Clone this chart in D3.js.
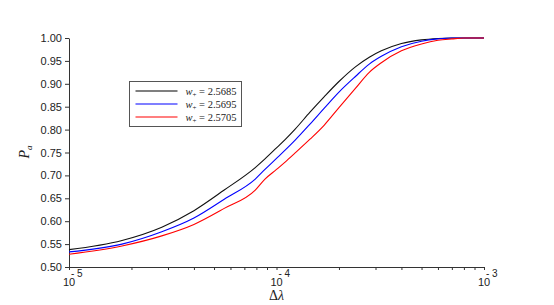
<!DOCTYPE html>
<html>
<head>
<meta charset="utf-8">
<script src="https://cdn.jsdelivr.net/npm/d3@7"></script>
<style>
  body { margin: 0; background: #fff; }
  svg { display: block; }
  .tick text { font-family: "Liberation Sans", Arial, sans-serif; font-size: 11px; fill: #222; }
</style>
</head>
<body>
<svg id="chart"></svg>
<script>
// sampled step sizes (shared by all series)
const dLambda = [1e-5, 1.8e-5, 2.8e-5, 4e-5, 5.6e-5, 7.9e-5, 8.8e-5, 1e-4, 1.1e-4, 1.23e-4,
  1.45e-4, 1.7e-4, 2e-4, 2.4e-4, 2.8e-4, 3.2e-4, 4e-4, 5e-4, 6e-4, 7e-4, 8e-4, 1e-3];

const pa25685 = [0.538, 0.558, 0.587, 0.623, 0.668, 0.717, 0.736, 0.760, 0.778, 0.801,
  0.838, 0.872, 0.905, 0.937, 0.958, 0.972, 0.988, 0.996, 0.999, 1.0, 1.0, 1.0];
const pa25695 = [0.533, 0.550, 0.577, 0.607, 0.648, 0.692, 0.713, 0.737, 0.755, 0.777,
  0.812, 0.847, 0.882, 0.916, 0.943, 0.960, 0.981, 0.993, 0.998, 1.0, 1.0, 1.0];
const pa25705 = [0.528, 0.546, 0.568, 0.593, 0.628, 0.668, 0.692, 0.713, 0.729, 0.749,
  0.779, 0.810, 0.848, 0.890, 0.925, 0.946, 0.972, 0.987, 0.995, 0.998, 1.0, 1.0];

const seriesNames = ["2.5685", "2.5695", "2.5705"];
const seriesColors = ["#111111", "#0000ff", "#ff0000"];
const legendColors = ["#000000", "#7f7fff", "#ff0000"];
const yTicks = [0.50, 0.55, 0.60, 0.65, 0.70, 0.75, 0.80, 0.85, 0.90, 0.95, 1.00];
const xDecades = [-5, -4, -3];

const dims = { width: 554, height: 305, margin: { top: 38, bottom: 38, left: 69, right: 70 } };

const svg = d3.select("#chart").attr("width", dims.width).attr("height", dims.height);

const x = d3.scaleLog()
  .domain([1e-5, 1e-3])
  .range([dims.margin.left, dims.width - dims.margin.right]);
const y = d3.scaleLinear()
  .domain([0.5, 1])
  .range([dims.height - dims.margin.bottom, dims.margin.top]);

// y axis
svg.append("g")
  .attr("transform", `translate(${dims.margin.left},0)`)
  .call(d3.axisLeft(y).tickValues(yTicks).tickSize(4).tickSizeOuter(0).tickFormat(d3.format(".2f")))
  .call(g => g.selectAll("line, path").attr("stroke", "#333"));

// x axis: minor + major ticks, labels drawn by hand as 10^n
const xTickVals = [];
xDecades.forEach(e => {
  if (e < -3) for (let m = 1; m < 10; m++) xTickVals.push(m * Math.pow(10, e));
  else xTickVals.push(Math.pow(10, e));
});
svg.append("g")
  .attr("transform", `translate(0,${y(0.5)})`)
  .call(d3.axisBottom(x).tickValues(xTickVals).tickSize(3).tickSizeOuter(0).tickFormat(""))
  .call(g => g.selectAll("line, path").attr("stroke", "#333"));

const xLab = svg.append("g")
  .style("font-family", "'Liberation Sans', Arial, sans-serif")
  .attr("fill", "#222");
xDecades.forEach(e => {
  const px = x(Math.pow(10, e));
  xLab.append("text").attr("x", px).attr("y", 286).attr("text-anchor", "middle")
    .style("font-size", "11px").text("10");
  xLab.append("text").attr("x", px + 2).attr("y", 277)
    .style("font-size", "10px").text("- " + Math.abs(e));
});

// axis titles
svg.append("text")
  .attr("x", x(1e-4)).attr("y", 300)
  .attr("text-anchor", "middle")
  .style("font-family", "'Liberation Serif', serif").style("font-size", "14px").attr("fill", "#222")
  .html('Δ<tspan font-style="italic">λ</tspan>');

svg.append("text")
  .attr("transform", "translate(29,152)rotate(-90)")
  .attr("text-anchor", "middle")
  .style("font-family", "'Liberation Serif', serif").style("font-size", "14px").attr("fill", "#222")
  .html('<tspan font-style="italic">P</tspan><tspan font-style="italic" font-size="9px" dy="3">a</tspan>');

// curves
const allSeries = [pa25685, pa25695, pa25705];
const line = d3.line().x(d => x(d[0])).y(d => y(d[1])).curve(d3.curveMonotoneX);
allSeries.forEach((vals, i) => {
  svg.append("path")
    .datum(dLambda.map((d, j) => [d, vals[j]]))
    .attr("fill", "none")
    .attr("stroke", seriesColors[i])
    .attr("stroke-width", 1.1)
    .attr("d", line);
});

// legend
const legend = svg.append("g").attr("transform", "translate(129.5,81.5)");
legend.append("rect").attr("width", 112).attr("height", 45)
  .attr("fill", "#fff").attr("stroke", "#555").attr("stroke-width", 1);
seriesNames.forEach((name, i) => {
  const ly = 9.5 + i * 13;
  legend.append("line").attr("x1", 6).attr("x2", 48).attr("y1", ly).attr("y2", ly)
    .attr("stroke", legendColors[i]).attr("stroke-width", i === 1 ? 2 : 1.2);
  legend.append("text").attr("x", 56).attr("y", ly + 3.5)
    .style("font-family", "'Liberation Serif', serif").style("font-size", "10.5px").attr("fill", "#222")
    .html(`<tspan font-style="italic">w</tspan><tspan font-size="7px" dy="2">+</tspan><tspan dy="-2"> = ${name}</tspan>`);
});
</script>
</body>
</html>
